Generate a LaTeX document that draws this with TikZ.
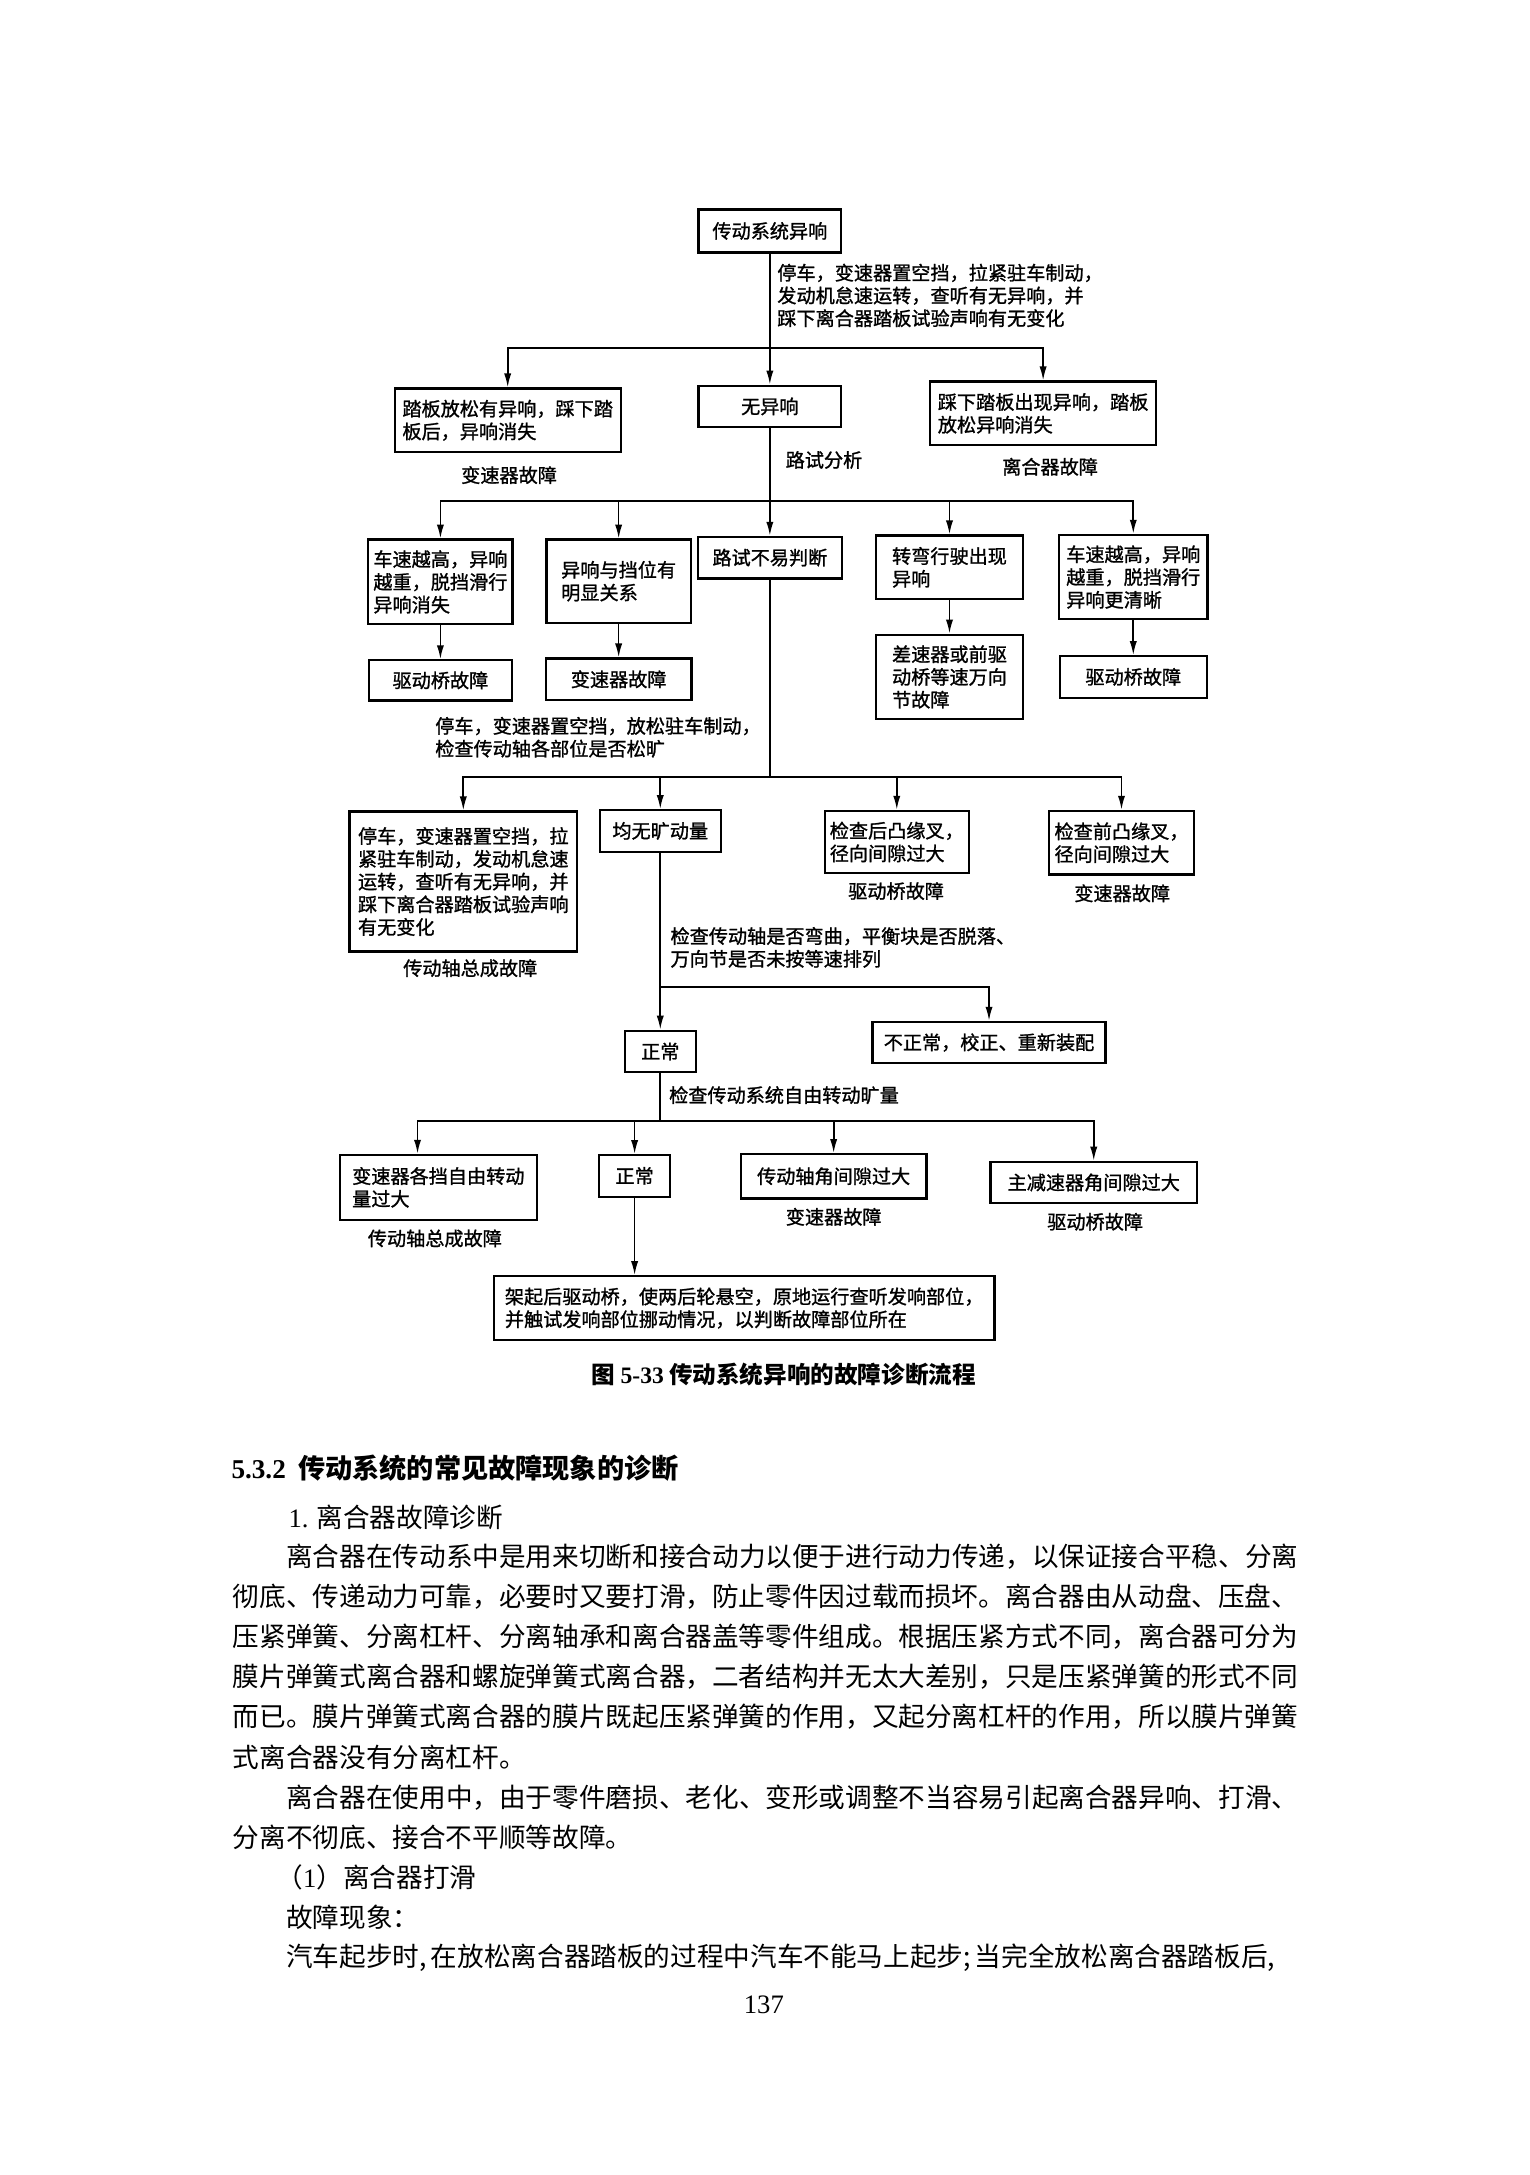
\documentclass[tikz,border=0pt]{standalone}
\usepackage{fontspec}
\setmainfont{Noto Sans CJK SC}
\newfontfamily\latf{Liberation Serif}
\newfontfamily\fcfont{Noto Sans CJK SC}[FakeBold=1.2]
\usetikzlibrary{arrows.meta, positioning}

\newcommand{\fcsize}{\fcfont\fontsize{6.9pt}{8.2pt}\selectfont}
\newcommand{\bodysize}{\fontsize{9.6pt}{14.4pt}\selectfont}

\begin{document}
\begin{tikzpicture}[
    x=0.5pt, y=-0.5pt,
    box/.style={rectangle, draw, line width=0.8pt, font=\fcsize, inner xsep=1.5pt, inner ysep=2pt, align=left},
    note/.style={font=\fcsize, inner sep=0pt, align=left},
    link/.style={line width=0.6pt},
    arrow/.style={line width=0.6pt, -{Latex[length=5pt, width=2.6pt]}},
    bodyline/.style={font=\bodysize, inner sep=0pt, anchor=west}
]
\useasboundingbox (0,0) rectangle (1103,1568);

% Flowchart boxes
\node (top) [box, minimum width=51.5pt, minimum height=15.5pt] at (555,166.5) {传动系统异响};

\node (b1L) [box, minimum width=81.5pt, minimum height=23pt] at (366,303) {踏板放松有异响，踩下踏\\板后，异响消失};
\node (b1M) [box, minimum width=51.5pt, minimum height=15pt] at (555,293) {无异响};
\node (b1R) [box, minimum width=81.5pt, minimum height=23pt] at (752,298) {踩下踏板出现异响，踏板\\放松异响消失};

\node (c1) [box, minimum width=52pt, minimum height=30.5pt] at (317.5,419.5) {车速越高，异响\\越重，脱挡滑行\\异响消失};
\node (c2) [box, minimum width=52pt, minimum height=30pt] at (446,419) {异响与挡位有\\明显关系};
\node (c3) [box, minimum width=52pt, minimum height=15pt] at (555,402) {路试不易判断};
\node (c4) [box, minimum width=53pt, minimum height=23pt] at (684.5,409) {转弯行驶出现\\异响};
\node (c5) [box, minimum width=53.5pt, minimum height=30.5pt] at (817,416) {车速越高，异响\\越重，脱挡滑行\\异响更清晰};

\node (d1) [box, minimum width=51.5pt, minimum height=14.5pt] at (317.5,490.5) {驱动桥故障};
\node (d2) [box, minimum width=52.5pt, minimum height=15pt] at (446,489.7) {变速器故障};
\node (d4) [box, minimum width=53pt, minimum height=30.5pt] at (684.5,488) {差速器或前驱\\动桥等速万向\\节故障};
\node (d5) [box, minimum width=53pt, minimum height=15pt] at (817,488) {驱动桥故障};

\node (e1) [box, minimum width=82pt, minimum height=50.5pt] at (334,635.5) {停车，变速器置空挡，拉\\紧驻车制动，发动机怠速\\运转，查听有无异响，并\\踩下离合器踏板试验声响\\有无变化};
\node (e2) [box, minimum width=43.5pt, minimum height=15pt] at (476,599) {均无旷动量};
\node (e3) [box, minimum width=52pt, minimum height=22.5pt] at (646.5,607) {检查后凸缘叉，\\径向间隙过大};
\node (e4) [box, minimum width=52pt, minimum height=23pt] at (808.5,607.5) {检查前凸缘叉，\\径向间隙过大};

\node (f1) [box, minimum width=25.5pt, minimum height=15pt] at (476,758) {正常};
\node (f2) [box, minimum width=84pt, minimum height=15pt] at (713,751.6) {不正常，校正、重新装配};

\node (g1) [box, minimum width=71pt, minimum height=23.5pt] at (316,856) {变速器各挡自由转动\\量过大};
\node (g2) [box, minimum width=25.5pt, minimum height=15pt] at (457.5,847.7) {正常};
\node (g3) [box, minimum width=67pt, minimum height=16pt] at (601,848) {传动轴角间隙过大};
\node (g4) [box, minimum width=74.5pt, minimum height=15pt] at (788.5,852.5) {主减速器角间隙过大};

\node (h) [box, minimum width=180.5pt, minimum height=23pt] at (536.5,943) {架起后驱动桥，使两后轮悬空，原地运行查听发响部位，\\并触试发响部位挪动情况，以判断故障部位所在};

% Labels
\node (t1) [note, anchor=west] at (560,213) {停车，变速器置空挡，拉紧驻车制动，\\发动机怠速运转，查听有无异响，并\\踩下离合器踏板试验声响有无变化};
\node (n1) [note] at (367,342.5) {变速器故障};
\node (n2) [note, anchor=west] at (566,331.6) {路试分析};
\node (n3) [note] at (757,336.5) {离合器故障};
\node (t2) [note, anchor=west] at (313.4,531.5) {停车，变速器置空挡，放松驻车制动，\\检查传动轴各部位是否松旷};
\node (n5) [note] at (339,698) {传动轴总成故障};
\node (n6) [note] at (646,642.4) {驱动桥故障};
\node (n7) [note] at (809,644) {变速器故障};
\node (t3) [note, anchor=west] at (483,683) {检查传动轴是否弯曲，平衡块是否脱落、\\万向节是否未按等速排列};
\node (t4) [note, anchor=west] at (482,789.5) {检查传动系统自由转动旷量};
\node (n10) [note] at (313.5,892.8) {传动轴总成故障};
\node (n11) [note] at (601,877.2) {变速器故障};
\node (n12) [note] at (789.5,880.8) {驱动桥故障};

% Junctions
\coordinate (s1) at (555,251);
\coordinate (s2) at (555,361);
\coordinate (s3) at (555,560);
\coordinate (s4) at (476,711.4);
\coordinate (s5) at (476,808);

% Connections
\draw [arrow] (top) -- (b1M);
\draw [arrow] (s1) -| (b1L);
\draw [arrow] (s1) -| (b1R);
\draw [arrow] (b1M) -- (c3);
\draw [arrow] (s2) -| (c1);
\draw [arrow] (s2) -| (c2);
\draw [arrow] (s2) -| (c4);
\draw [arrow] (s2) -| (c5);
\draw [arrow] (c1) -- (d1);
\draw [arrow] (c2) -- (d2);
\draw [arrow] (c4) -- (d4);
\draw [arrow] (c5) -- (d5);
\draw [link] (c3) -- (s3);
\draw [arrow] (s3) -| (e1);
\draw [arrow] (s3) -| (e2);
\draw [arrow] (s3) -| (e3);
\draw [arrow] (s3) -| (e4);
\draw [arrow] (e2) -- (f1);
\draw [arrow] (s4) -| (f2);
\draw [link] (f1) -- (s5);
\draw [arrow] (s5) -| ([xshift=-7.5pt]g1.north);
\draw [arrow] (s5) -| (g2);
\draw [arrow] (s5) -| (g3);
\draw [arrow] (s5) -| (g4);
\draw [arrow] (g2) -- (g2 |- h.north);

% Caption
\node (cap) [font=\fontsize{8.5pt}{10pt}\selectfont\bfseries, inner sep=0pt] at (565,991) {图 {\latf 5-33} 传动系统异响的故障诊断流程};

% Body text
\node (hd) [bodyline, font=\fontsize{9.8pt}{12pt}\selectfont\bfseries] at (166.5,1058.6) {{\latf 5.3.2}\hspace{0.45em}传动系统的常见故障现象的诊断};
\node (l0) [bodyline] at (207.6,1094) {{\latf 1.}\hspace{0.3em}离合器故障诊断};
\node (l1) [bodyline] at (206,1122.5) {离合器在传动系中是用来切断和接合动力以便于进行动力传递，以保证接合平稳、分离};
\node (l2) [bodyline] at (167.5,1151.3) {彻底、传递动力可靠，必要时又要打滑，防止零件因过载而损坏。离合器由从动盘、压盘、};
\node (l3) [bodyline] at (167.5,1180.2) {压紧弹簧、分离杠杆、分离轴承和离合器盖等零件组成。根据压紧方式不同，离合器可分为};
\node (l4) [bodyline] at (167.5,1209) {膜片弹簧式离合器和螺旋弹簧式离合器，二者结构并无太大差别，只是压紧弹簧的形式不同};
\node (l5) [bodyline] at (167.5,1237.9) {而已。膜片弹簧式离合器的膜片既起压紧弹簧的作用，又起分离杠杆的作用，所以膜片弹簧};
\node (l6) [bodyline] at (167.5,1266.7) {式离合器没有分离杠杆。};
\node (l7) [bodyline] at (206,1295.6) {离合器在使用中，由于零件磨损、老化、变形或调整不当容易引起离合器异响、打滑、};
\node (l8) [bodyline] at (167.5,1324.4) {分离不彻底、接合不平顺等故障。};
\node (l9) [bodyline] at (199,1353.3) {（{\latf 1}）离合器打滑};
\node (l10) [bodyline] at (206,1382.1) {故障现象：};
\node (l11) [bodyline] at (206,1411) {汽车起步时,\hspace{0.15em}在放松离合器踏板的过程中汽车不能马上起步;\hspace{0.15em}当完全放松离合器踏板后,};
\node (pg) [font=\latf\fontsize{9.6pt}{12pt}\selectfont, inner sep=0pt] at (550.7,1445.6) {137};

\end{tikzpicture}
\end{document}
